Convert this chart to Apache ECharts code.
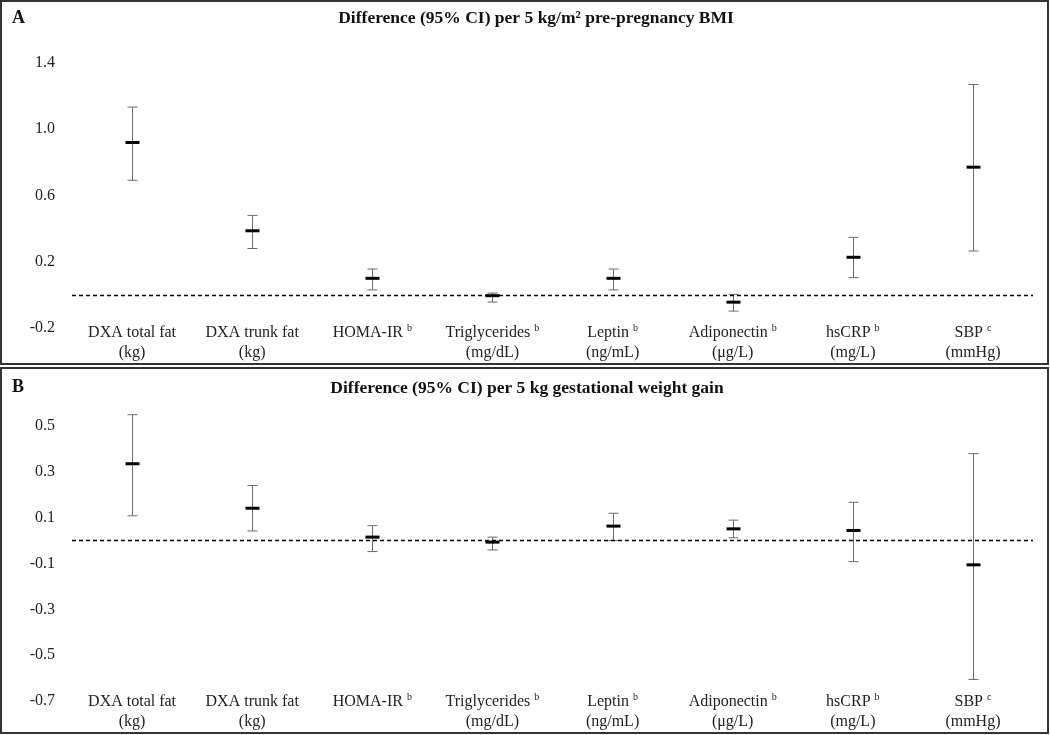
<!DOCTYPE html>
<html>
<head>
<meta charset="utf-8">
<script src="https://cdn.jsdelivr.net/npm/echarts@6/dist/echarts.min.js"></script>
<style>
  html, body { margin: 0; padding: 0; background: #fff; }
  #chart { width: 1050px; height: 735px; }
</style>
</head>
<body>
<div id="chart"></div>
<script>
// ---- Data ----
const categories = ['DXA total fat', 'DXA trunk fat', 'HOMA-IR', 'Triglycerides', 'Leptin', 'Adiponectin', 'hsCRP', 'SBP'];
const superscripts = ['', '', 'b', 'b', 'b', 'b', 'b', 'c'];
const units = ['(kg)', '(kg)', '', '(mg/dL)', '(ng/mL)', '(\u03BCg/L)', '(mg/L)', '(mmHg)'];

// Panel A: per 5 kg/m2 pre-pregnancy BMI
const bmiMean  = [0.92, 0.387, 0.10, -0.005, 0.10, -0.044, 0.227, 0.771];
const bmiLower = [0.692, 0.28, 0.03, -0.043, 0.03, -0.098, 0.104, 0.265];
const bmiUpper = [1.134, 0.48, 0.156, 0.011, 0.156, 0.003, 0.347, 1.27];
const bmiTicks = [-0.2, 0.2, 0.6, 1.0, 1.4];

// Panel B: per 5 kg gestational weight gain
const gwgMean  = [0.335, 0.141, 0.015, -0.007, 0.063, 0.051, 0.044, -0.106];
const gwgLower = [0.108, 0.042, -0.048, -0.041, 0.0, 0.012, -0.092, -0.606];
const gwgUpper = [0.549, 0.24, 0.065, 0.015, 0.119, 0.089, 0.167, 0.379];
const gwgTicks = [-0.7, -0.5, -0.3, -0.1, 0.1, 0.3, 0.5];

// ---- Build ----
const FONT = '"Liberation Serif", "Times New Roman", serif';

function buildData(lower, mean, upper) {
  return categories.map((c, i) => [i, lower[i], mean[i], upper[i]]);
}

function renderItem(params, api) {
  const x = api.value(0);
  const lo = api.coord([x, api.value(1)]);
  const me = api.coord([x, api.value(2)]);
  const hi = api.coord([x, api.value(3)]);
  const cx = Math.round(lo[0]) + 0.5;
  const capW = 5, meanW = 7;
  const whisker = { stroke: '#6b6b6b', lineWidth: 1 };
  return {
    type: 'group',
    children: [
      { type: 'line', shape: { x1: cx, y1: hi[1], x2: cx, y2: lo[1] }, style: whisker },
      { type: 'line', shape: { x1: cx - capW, y1: hi[1], x2: cx + capW, y2: hi[1] }, style: whisker },
      { type: 'line', shape: { x1: cx - capW, y1: lo[1], x2: cx + capW, y2: lo[1] }, style: whisker },
      { type: 'line', shape: { x1: cx - meanW, y1: me[1], x2: cx + meanW, y2: me[1] }, style: { stroke: '#000', lineWidth: 3 } }
    ]
  };
}

function catFormatter(value, idx) {
  const i = categories.indexOf(value);
  let s = '{n|' + value + '}';
  if (superscripts[i]) s += '{n| }{s|' + superscripts[i] + '}';
  if (units[i]) s += '\n{n|' + units[i] + '}';
  return s;
}

function makeYFormatter(ticks) {
  return function (v) {
    for (const t of ticks) if (Math.abs(v - t) < 1e-6) return t.toFixed(1);
    return '';
  };
}

function xAxisCfg(gridIndex, margin) {
  return {
    type: 'category', gridIndex: gridIndex, data: categories,
    axisLine: { show: false }, axisTick: { show: false }, splitLine: { show: false },
    axisLabel: {
      interval: 0, margin: margin, formatter: catFormatter,
      rich: {
        n: { fontFamily: FONT, fontSize: 16, color: '#222', lineHeight: 20 },
        s: { fontFamily: FONT, fontSize: 10, color: '#222', lineHeight: 10, verticalAlign: 'top' }
      }
    }
  };
}

function yAxisCfg(gridIndex, min, max, ticks) {
  return {
    type: 'value', gridIndex: gridIndex, min: min, max: max, interval: 0.1,
    axisLine: { show: false }, axisTick: { show: false }, splitLine: { show: false },
    axisLabel: { margin: 17, fontFamily: FONT, fontSize: 16, color: '#222', formatter: makeYFormatter(ticks) }
  };
}

const zeroLine = {
  silent: true, symbol: ['none', 'none'], label: { show: false },
  lineStyle: { type: [4, 3], color: '#000', width: 1.3 },
  emphasis: { disabled: true },
  data: [{ yAxis: 0 }]
};

const option = {
  backgroundColor: '#fff',
  animation: false,
  grid: [
    { left: 72, right: 17, top: 63, bottom: 735 - 328 },
    { left: 72, right: 17, top: 403, bottom: 735 - 701 }
  ],
  xAxis: [xAxisCfg(0, -5), xAxisCfg(1, -9)],
  yAxis: [yAxisCfg(0, -0.2, 1.4, bmiTicks), yAxisCfg(1, -0.7, 0.6, gwgTicks)],
  series: [
    { type: 'custom', xAxisIndex: 0, yAxisIndex: 0, renderItem: renderItem,
      encode: { x: 0, y: [1, 2, 3] }, data: buildData(bmiLower, bmiMean, bmiUpper), markLine: zeroLine },
    { type: 'custom', xAxisIndex: 1, yAxisIndex: 1, renderItem: renderItem,
      encode: { x: 0, y: [1, 2, 3] }, data: buildData(gwgLower, gwgMean, gwgUpper), markLine: zeroLine }
  ],
  graphic: [
    { type: 'rect', shape: { x: 1, y: 1, width: 1047, height: 363 }, style: { fill: 'none', stroke: '#333', lineWidth: 2 }, silent: true },
    { type: 'rect', shape: { x: 1, y: 368, width: 1047, height: 365 }, style: { fill: 'none', stroke: '#333', lineWidth: 2 }, silent: true },
    { type: 'text', left: 12, top: 9, style: { text: 'A', font: 'bold 18px ' + FONT, fill: '#111' } },
    { type: 'text', left: 12, top: 378, style: { text: 'B', font: 'bold 18px ' + FONT, fill: '#111' } },
    { type: 'text', x: 536, y: 18, style: { text: 'Difference (95% CI) per 5 kg/m\u00B2 pre-pregnancy BMI', font: 'bold 17.5px ' + FONT, fill: '#111', align: 'center', verticalAlign: 'middle' } },
    { type: 'text', x: 527, y: 388, style: { text: 'Difference (95% CI) per 5 kg gestational weight gain', font: 'bold 17.5px ' + FONT, fill: '#111', align: 'center', verticalAlign: 'middle' } }
  ]
};

const chart = echarts.init(document.getElementById('chart'), null, { renderer: 'canvas' });
chart.setOption(option);
</script>
</body>
</html>
